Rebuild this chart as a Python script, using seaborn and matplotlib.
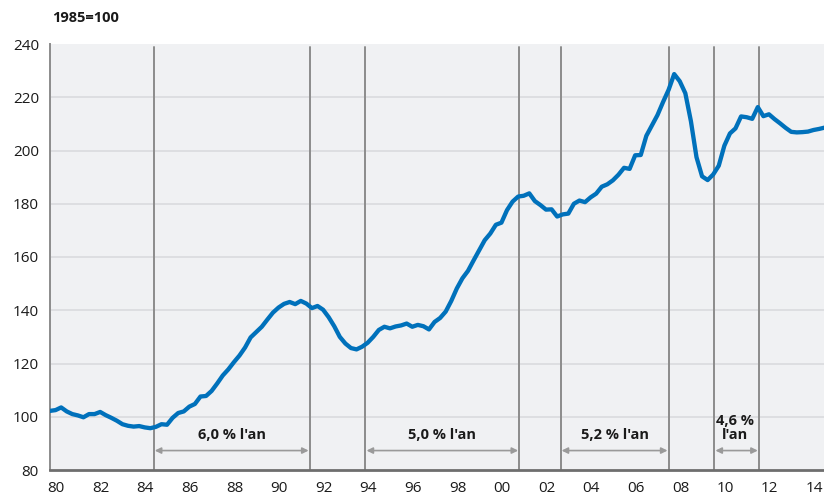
import numpy as np
import pandas as pd
import seaborn as sns
import matplotlib.pyplot as plt

# ----------------------------------------------------------
# Data (quarterly index, 1985=100)
# ----------------------------------------------------------
quarters = pd.period_range("1980Q1", "2014Q4", freq="Q")

index_values = [
    102.2, 102.5, 103.5, 102.0,   # 1980
    101.0, 100.5, 99.8, 101.0,    # 1981
    101.0, 101.8, 100.6, 99.6,    # 1982
    98.5, 97.2, 96.6, 96.3,       # 1983
    96.5, 96.0, 95.7, 96.2,       # 1984
    97.2, 97.0, 99.6, 101.4,      # 1985
    102.0, 103.8, 104.8, 107.6,   # 1986
    107.8, 109.7, 112.5, 115.5,   # 1987
    117.8, 120.5, 123.0, 126.0,   # 1988
    129.8, 131.8, 133.8, 136.5,   # 1989
    139.1, 141.0, 142.4, 143.1,   # 1990
    142.3, 143.5, 142.5, 140.8,   # 1991
    141.6, 140.2, 137.4, 134.0,   # 1992
    130.0, 127.5, 125.8, 125.3,   # 1993
    126.3, 127.8, 130.0, 132.6,   # 1994
    133.8, 133.2, 133.9, 134.3,   # 1995
    135.0, 133.8, 134.5, 134.0,   # 1996
    132.8, 135.6, 137.1, 139.5,   # 1997
    143.5, 148.2, 152.0, 154.8,   # 1998
    158.7, 162.5, 166.3, 168.8,   # 1999
    172.1, 172.9, 177.6, 180.8,   # 2000
    182.7, 183.0, 183.9, 181.0,   # 2001
    179.5, 177.8, 177.9, 175.2,   # 2002
    176.0, 176.3, 180.0, 181.2,   # 2003
    180.6, 182.4, 183.8, 186.4,   # 2004
    187.3, 188.8, 190.9, 193.5,   # 2005
    193.1, 198.2, 198.3, 205.5,   # 2006
    209.4, 213.3, 218.2, 222.8,   # 2007
    228.7, 226.0, 221.5, 211.0,   # 2008
    197.5, 190.3, 188.9, 191.0,   # 2009
    194.3, 201.8, 206.4, 208.3,   # 2010
    212.8, 212.5, 211.9, 216.3,   # 2011
    212.9, 213.6, 211.8, 210.2,   # 2012
    208.5, 207.0, 206.8, 206.9,   # 2013
    207.1, 207.7, 208.1, 208.6,   # 2014
]

# Break dates (vertical lines) and annual growth over each period
break_dates = [1984.65, 1991.65, 1994.15, 2001.05, 2002.9, 2007.75, 2009.8, 2011.8]
period_starts = [1984.65, 1994.15, 2002.9, 2009.8]
period_ends = [1991.65, 2001.05, 2007.75, 2011.8]
period_labels = ["6,0 % l'an", "5,0 % l'an", "5,2 % l'an", "4,6 %\nl'an"]

year_ticks = list(range(1980, 2015, 2))
year_labels = [f"{y % 100:02d}" for y in year_ticks]

df = pd.DataFrame({
    "date": quarters.year + (quarters.quarter - 1) / 4,
    "index": index_values,
})

# ----------------------------------------------------------
# Plot
# ----------------------------------------------------------
sns.set_theme(style="white")
plt.rcParams["font.family"] = ["Open Sans", "DejaVu Sans"]

fig = plt.figure(figsize=(8.24, 5.01), dpi=100)
ax = fig.add_axes([50 / 824, 31 / 501, 774 / 824, 426 / 501])
ax.set_facecolor("#f0f1f3")

ax.set_xlim(1980, 2014.72)
ax.set_ylim(80, 240)

# horizontal grid
for y in range(100, 240, 20):
    ax.axhline(y, color="#dcdde0", lw=1.3, zorder=1)

# vertical break lines
for x in break_dates:
    ax.plot([x, x], [80, 239], color="#8c8c8c", lw=1.4, zorder=2)

sns.lineplot(data=df, x="date", y="index", ax=ax, color="#0071bb",
             lw=3.1, zorder=4)

# growth-rate arrows and labels
for x0, x1, label in zip(period_starts, period_ends, period_labels):
    ax.annotate("", xy=(x1 - 0.05, 87.3), xytext=(x0 + 0.05, 87.3),
                arrowprops=dict(arrowstyle="<|-|>", color="#9a9a9a", lw=1.2,
                                mutation_scale=9, shrinkA=0, shrinkB=0),
                zorder=3)
    if "\n" in label:
        ax.text((x0 + x1) / 2 - 0.05, 95.6, label, ha="center", va="center",
                fontsize=10.5, fontweight="bold", color="#1a1a1a",
                linespacing=1.0, zorder=5)
    else:
        ax.text((x0 + x1) / 2, 93.3, label, ha="center", va="center",
                fontsize=10.5, fontweight="bold", color="#1a1a1a", zorder=5)

# axes styling
for side in ["top", "right"]:
    ax.spines[side].set_visible(False)
ax.spines["left"].set_color("#8c8c8c")
ax.spines["left"].set_linewidth(1.4)
ax.spines["bottom"].set_color("#6e6e6e")
ax.spines["bottom"].set_linewidth(2)

ax.set_yticks(range(80, 241, 20))
ax.tick_params(axis="y", length=4, width=1, color="#8c8c8c", labelsize=11,
               labelcolor="#1a1a1a", pad=4)

# year tick marks, labels slightly right of the tick
ax.set_xticks([y + 0.28 for y in year_ticks])
ax.set_xticklabels(year_labels)
ax.set_xticks(range(1981, 2015), minor=True)
ax.tick_params(axis="x", which="major", length=0, labelsize=11,
               labelcolor="#1a1a1a", pad=8)
ax.tick_params(axis="x", which="minor", length=4, width=1, color="#6e6e6e")

ax.set_xlabel("")
ax.set_ylabel("")

fig.text(52 / 824, 1 - 18 / 501, "1985=100", ha="left", va="center",
         fontsize=10.5, fontweight="bold", color="#1a1a1a")

plt.savefig("out.png", dpi=100)
